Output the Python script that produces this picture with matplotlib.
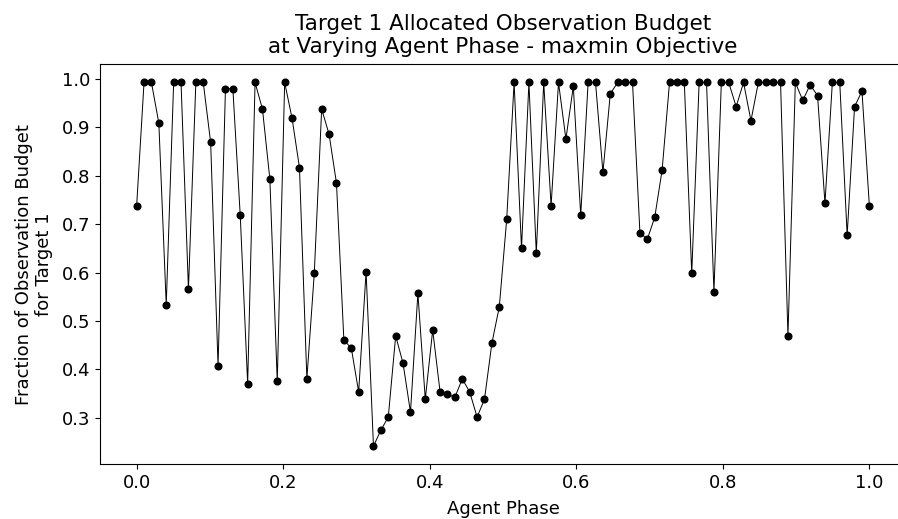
import numpy as np
import matplotlib
matplotlib.use("Agg")
import matplotlib.pyplot as plt

agent_phase = np.linspace(0, 1, 100)
fraction_target1 = [
    0.738, 0.993, 0.993, 0.909, 0.533, 0.993, 0.993, 0.565, 0.993, 0.993,
    0.869, 0.407, 0.980, 0.980, 0.718, 0.370, 0.993, 0.938, 0.793, 0.375,
    0.993, 0.919, 0.817, 0.380, 0.598, 0.938, 0.886, 0.785, 0.460, 0.444,
    0.353, 0.602, 0.241, 0.274, 0.301, 0.469, 0.412, 0.311, 0.557, 0.338,
    0.481, 0.353, 0.348, 0.342, 0.380, 0.353, 0.301, 0.338, 0.454, 0.529,
    0.710, 0.993, 0.650, 0.993, 0.640, 0.993, 0.738, 0.993, 0.876, 0.985,
    0.718, 0.993, 0.993, 0.807, 0.970, 0.993, 0.993, 0.993, 0.682, 0.669,
    0.714, 0.812, 0.993, 0.993, 0.993, 0.598, 0.993, 0.993, 0.560, 0.993,
    0.993, 0.943, 0.993, 0.914, 0.993, 0.993, 0.993, 0.993, 0.469, 0.993,
    0.956, 0.988, 0.966, 0.743, 0.993, 0.993, 0.677, 0.943, 0.975, 0.738,
]

title = "Target 1 Allocated Observation Budget\nat Varying Agent Phase - maxmin Objective"
xlabel = "Agent Phase"
ylabel = "Fraction of Observation Budget\nfor Target 1"

W, H = 898, 519
fig = plt.figure(figsize=(W / 100, H / 100), dpi=100)
left, right, top, bottom = 100, 906, 64.3, 464.3
ax = fig.add_axes([left / W, (H - bottom) / H, (right - left) / W, (bottom - top) / H])

ax.plot(agent_phase, fraction_target1, color="black", linewidth=0.7,
        marker="o", markersize=4.8)

ax.set_xticks([0.0, 0.2, 0.4, 0.6, 0.8, 1.0])
ax.set_yticks([0.3, 0.4, 0.5, 0.6, 0.7, 0.8, 0.9, 1.0])
ax.tick_params(labelsize=13)
ax.set_xlabel(xlabel, fontsize=13, labelpad=6)
ax.set_ylabel(ylabel, fontsize=13, labelpad=6)
ax.set_title(title, fontsize=15.5, pad=8)

fig.savefig("out.png", dpi=100)
